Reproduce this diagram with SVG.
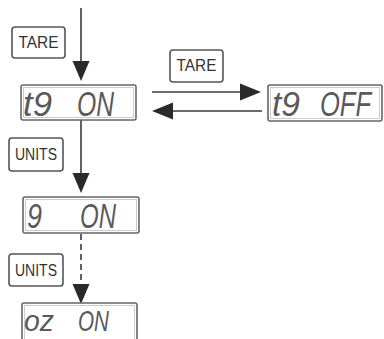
<svg xmlns="http://www.w3.org/2000/svg" width="384" height="339" viewBox="0 0 384 339">
<style>
.key rect{fill:#fff;stroke:#555;stroke-width:1.6}
.key text{font-family:"Liberation Sans",Arial,sans-serif;font-size:16px;fill:#333;text-anchor:middle}
.disp .o{fill:#fff;stroke:#666;stroke-width:1.6}
.disp .i{fill:none;stroke:#ccc;stroke-width:1}
.disp text{font-family:"Liberation Sans",Arial,sans-serif;font-size:35px;fill:#5a5a5a;font-style:italic}
.ln{stroke:#3a3a3a;stroke-width:1.6;fill:none}
.dash{stroke-dasharray:6 4}
.hd{fill:#2a2a2a}
</style>
<g id="connectors">
<line class="ln" x1="81" y1="8" x2="81" y2="68"/>
<polygon class="hd" points="72.5,61 89.5,61 81,81"/>
<line class="ln" x1="81" y1="120" x2="81" y2="180"/>
<polygon class="hd" points="72.5,173 89.5,173 81,193"/>
<line class="ln dash" x1="81" y1="234" x2="81" y2="290"/>
<polygon class="hd" points="72.5,284 89.5,284 81,304"/>
<line class="ln" x1="152" y1="92" x2="246" y2="92"/>
<polygon class="hd" points="240,83.5 240,100.5 261,92"/>
<line class="ln" x1="165" y1="111" x2="262" y2="111"/>
<polygon class="hd" points="173,102.5 173,119.5 152,111"/>
</g>
<g id="key-tare-1" class="key"><rect x="12" y="27" width="53" height="31" rx="3"/><text x="38.5" y="48" textLength="40" lengthAdjust="spacingAndGlyphs">TARE</text></g>
<g id="key-tare-2" class="key"><rect x="170" y="50" width="53" height="32" rx="3"/><text x="196.5" y="71" textLength="40" lengthAdjust="spacingAndGlyphs">TARE</text></g>
<g id="key-units-1" class="key"><rect x="9" y="138" width="54" height="33" rx="3"/><text x="36" y="160" textLength="42" lengthAdjust="spacingAndGlyphs">UNITS</text></g>
<g id="key-units-2" class="key"><rect x="9" y="254" width="54" height="32" rx="3"/><text x="36" y="276" textLength="42" lengthAdjust="spacingAndGlyphs">UNITS</text></g>
<g id="disp-t9-on" class="disp"><rect class="o" x="21" y="85" width="115" height="35" rx="2"/><rect class="i" x="23.5" y="87.5" width="110" height="30"/>
<text x="23" y="116" textLength="29" lengthAdjust="spacingAndGlyphs">t9</text><text x="77" y="116" textLength="37" lengthAdjust="spacingAndGlyphs">ON</text></g>
<g id="disp-t9-off" class="disp"><rect class="o" x="268" y="85" width="114" height="36" rx="2"/><rect class="i" x="270.5" y="87.5" width="109" height="31"/>
<text x="272" y="116" textLength="28" lengthAdjust="spacingAndGlyphs">t9</text><text transform="translate(320 116) scale(0.73 1)">OFF</text></g>
<g id="disp-g-on" class="disp"><rect class="o" x="23" y="197" width="116" height="36" rx="2"/><rect class="i" x="25.5" y="199.5" width="111" height="31"/>
<text x="27" y="228" textLength="15" lengthAdjust="spacingAndGlyphs">9</text><text x="80" y="228" textLength="36" lengthAdjust="spacingAndGlyphs">ON</text></g>
<g id="disp-oz-on" class="disp"><rect class="o" x="22" y="303" width="115" height="40" rx="2"/><rect class="i" x="24.5" y="305.5" width="110" height="36"/>
<text x="24" y="331" style="font-size:30px" textLength="30" lengthAdjust="spacingAndGlyphs">oz</text><text x="78" y="331" style="font-size:30px" textLength="31" lengthAdjust="spacingAndGlyphs">ON</text></g>
</svg>
